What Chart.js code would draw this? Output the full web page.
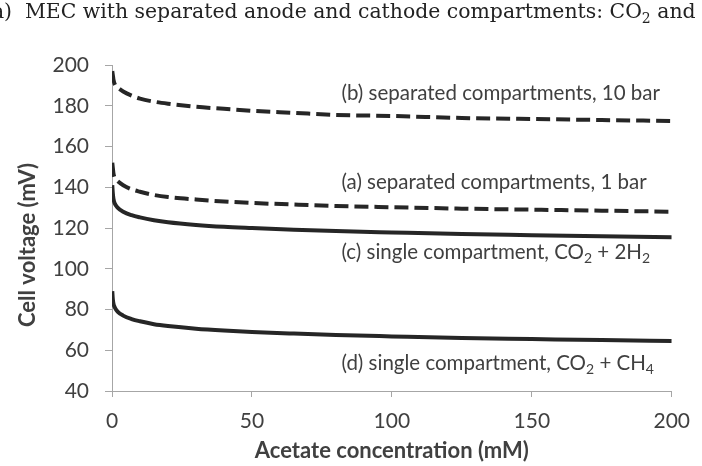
<!DOCTYPE html>
<html>
<head>
<meta charset="utf-8">
<script src="https://cdn.jsdelivr.net/npm/chart.js@4"></script>
<style>
  html, body { margin: 0; padding: 0; background: #fff; }
  #wrap { width: 702px; height: 466px; }
</style>
</head>
<body>
<div id="wrap"><canvas id="myChart" width="702" height="466"></canvas></div>
<script>
// acetate concentration (mM)
const acetate = [0.1, 0.3, 0.5, 1, 2, 4, 7, 10, 15, 20, 30, 40, 50, 65, 80, 100, 125, 150, 175, 200];

// cell voltage (mV)
const sep10bar = [197, 195, 193, 190.5, 189, 187, 185, 183.5, 182, 181, 179.5, 178.5, 177.5, 176.5, 175.5, 175, 174, 173.5, 173, 172.5];
const sep1bar = [152, 149.5, 147, 144.5, 143, 141, 139, 137.8, 136.2, 135.2, 134, 133, 132.3, 131.5, 130.8, 130.2, 129.5, 129, 128.5, 128];
const singleH2 = [141, 137, 134.5, 132, 130, 128, 126.3, 125.2, 123.8, 122.8, 121.5, 120.6, 120, 119.2, 118.5, 117.8, 117, 116.5, 116, 115.5];
const singleCH4 = [89, 85, 83, 81, 79, 77, 75.3, 74.2, 72.8, 71.9, 70.6, 69.7, 69, 68.2, 67.5, 66.8, 66, 65.5, 65, 64.6];

const xTicks = [0, 50, 100, 150, 200];
const yTicks = [40, 60, 80, 100, 120, 140, 160, 180, 200];

// curve labels ("_2" = subscript), anchored in data units
const labelText = [
  '(b) separated compartments, 10 bar',
  '(a) separated compartments, 1 bar',
  '(c) single compartment, CO_2 + 2H_2',
  '(d) single compartment, CO_2 + CH_4'
];
const labelX = [82, 82, 82, 82];
const labelY = [186.2, 142.4, 107.9, 53.7];

const ink = '#262626';
const textGray = '#404040';
const axisGray = '#a6a6a6';

function toPoints(ys) {
  return acetate.map((x, i) => ({ x: x, y: ys[i] }));
}

function line(data, dashed) {
  return {
    data: toPoints(data),
    borderColor: ink,
    borderWidth: 4,
    borderDash: dashed ? [14, 6] : [],
    pointRadius: 0,
    fill: false,
    cubicInterpolationMode: 'monotone'
  };
}

const extras = {
  id: 'extras',
  afterDraw(chart) {
    const { ctx, chartArea, scales } = chart;
    ctx.save();
    ctx.fillStyle = '#222';

    // cropped figure caption at the top
    const big = '20.4px "DejaVu Serif"';
    ctx.font = big;
    ctx.textBaseline = 'alphabetic';
    let tx = 12 - ctx.measureText('(a)').width;
    const parts = ['(a)  MEC with separated anode and cathode compartments: CO', '2', ' and'];
    parts.forEach((p, i) => {
      ctx.font = i === 1 ? '14px "DejaVu Serif"' : big;
      ctx.fillText(p, tx, i === 1 ? 23 : 18);
      tx += ctx.measureText(p).width;
    });

    // y axis title
    ctx.fillStyle = textGray;
    ctx.font = 'bold 22px Lato';
    ctx.textAlign = 'center';
    ctx.textBaseline = 'middle';
    ctx.translate(28, (chartArea.top + chartArea.bottom) / 2 + 17);
    ctx.rotate(-Math.PI / 2);
    ctx.fillText('Cell voltage (mV)', 0, 0);
    ctx.restore();

    // curve labels
    ctx.save();
    ctx.fillStyle = textGray;
    ctx.textBaseline = 'middle';
    labelText.forEach((txt, i) => {
      let px = scales.x.getPixelForValue(labelX[i]);
      const py = scales.y.getPixelForValue(labelY[i]);
      txt.split(/_(\d)/).forEach((seg, k) => {
        const sub = k % 2 === 1;
        ctx.font = sub ? '14px Lato' : '20.5px Lato';
        ctx.fillText(seg, px, sub ? py + 6 : py);
        px += ctx.measureText(seg).width;
      });
    });
    ctx.restore();
  }
};

new Chart(document.getElementById('myChart'), {
  type: 'line',
  data: {
    datasets: [
      line(sep10bar, true),
      line(sep1bar, true),
      line(singleH2, false),
      line(singleCH4, false)
    ]
  },
  options: {
    responsive: false,
    animation: false,
    layout: { padding: { top: 65, right: 23, left: 0, bottom: 0 } },
    plugins: { legend: { display: false }, tooltip: { enabled: false } },
    scales: {
      x: {
        type: 'linear',
        min: 0,
        max: 200,
        afterBuildTicks: s => { s.ticks = xTicks.map(v => ({ value: v })); },
        afterFit: s => { s.height = 75; },
        grid: { drawOnChartArea: false, drawTicks: true, tickLength: 6, color: axisGray },
        border: { color: axisGray },
        ticks: { color: textGray, font: { family: 'Lato', size: 21 }, padding: 12 },
        title: {
          display: true,
          text: 'Acetate concentration (mM)',
          color: textGray,
          font: { family: 'Lato', size: 22, weight: 'bold' },
          padding: { top: 0, bottom: 2 }
        }
      },
      y: {
        min: 40,
        max: 200,
        afterBuildTicks: s => { s.ticks = yTicks.map(v => ({ value: v })); },
        afterFit: s => { s.width = 112; },
        grid: { drawOnChartArea: false, drawTicks: true, tickLength: 7, color: axisGray },
        border: { color: axisGray },
        ticks: { color: textGray, font: { family: 'Lato', size: 21 }, padding: 16 }
      }
    }
  },
  plugins: [extras]
});
</script>
</body>
</html>
